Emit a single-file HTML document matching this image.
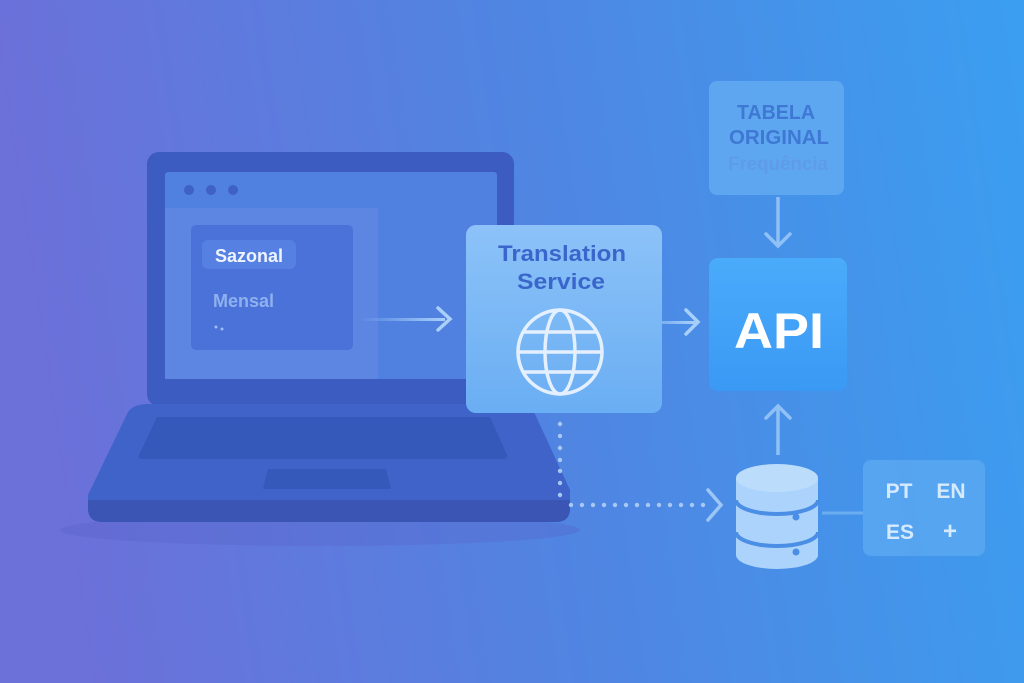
<!DOCTYPE html>
<html><head><meta charset="utf-8"><style>
html,body{margin:0;padding:0;width:1024px;height:683px;overflow:hidden}
svg{display:block}
text{font-family:"Liberation Sans","DejaVu Sans",sans-serif;font-weight:bold}
</style></head><body>
<svg width="1024" height="683" viewBox="0 0 1024 683" xmlns="http://www.w3.org/2000/svg">
<defs>
<linearGradient id="bg" x1="0" y1="0.2" x2="1" y2="0.1">
<stop offset="0" stop-color="#6c70d9"/><stop offset="0.5" stop-color="#5085e2"/><stop offset="1" stop-color="#3b9ef0"/>
</linearGradient>
<linearGradient id="ts" x1="0" y1="0" x2="0" y2="1">
<stop offset="0" stop-color="#8cc2f8"/><stop offset="1" stop-color="#6aaef3"/>
</linearGradient>
<linearGradient id="api" x1="0" y1="0" x2="0" y2="1">
<stop offset="0" stop-color="#4aabfb"/><stop offset="1" stop-color="#3a99f4"/>
</linearGradient>
<linearGradient id="ar" x1="0" y1="0" x2="1" y2="0">
<stop offset="0" stop-color="#a8d0fb" stop-opacity="0"/><stop offset="1" stop-color="#a8d0fb"/>
</linearGradient>
</defs>
<rect width="1024" height="683" fill="url(#bg)"/>
<!-- shadow -->
<ellipse cx="320" cy="530" rx="260" ry="16" fill="#5660c8" opacity="0.3"/>
<!-- laptop screen -->
<rect x="147" y="152" width="367" height="254" rx="12" fill="#3d5cc2"/>
<rect x="165" y="172" width="332" height="207" rx="3" fill="#5080e0"/>
<rect x="165" y="208" width="213" height="171" fill="#5d86e3"/>
<circle cx="189" cy="190" r="5" fill="#3f60c6"/><circle cx="211" cy="190" r="5" fill="#3f60c6"/><circle cx="233" cy="190" r="5" fill="#3f60c6"/>
<rect x="191" y="225" width="162" height="125" rx="5" fill="#4a72d8"/>
<rect x="202" y="240" width="94" height="29" rx="6" fill="#5680e2"/>
<text x="215" y="262" font-size="18" fill="#eef4ff">Sazonal</text>
<text x="213" y="307" font-size="18" fill="#8fb0ef">Mensal</text>
<circle cx="216" cy="327" r="1.5" fill="#9fbdf2"/><circle cx="222" cy="329" r="1.5" fill="#9fbdf2"/>
<!-- laptop base -->
<path d="M150 404 H520 Q530 404 534 412 L570 490 V508 Q570 522 556 522 H102 Q88 522 88 508 V495 L128 412 Q133 404 150 404 Z" fill="#3f63c8"/>
<path d="M88 500 H570 V508 Q570 522 556 522 H102 Q88 522 88 508 Z" fill="#3a55b4"/>
<path d="M157 417 H490 L507 455 Q508 459 503 459 H143 Q137 459 139 455 Z" fill="#3558bb"/>
<path d="M268 469 H386 L391 489 H263 Z" fill="#3558bb"/>
<!-- arrows -->
<rect x="360" y="318" width="85" height="3" fill="url(#ar)"/>
<path d="M438 308 L450 319 L438 330" fill="none" stroke="#a8d0fb" stroke-width="3.5" stroke-linecap="round"/>
<rect x="625" y="321" width="70" height="3" fill="url(#ar)"/>
<path d="M686 310 L698 322 L686 334" fill="none" stroke="#a8d0fb" stroke-width="3.5" stroke-linecap="round"/>
<!-- translation service -->
<rect x="466" y="225" width="196" height="188" rx="10" fill="url(#ts)"/>
<text x="562" y="261" font-size="22" fill="#3a66cb" text-anchor="middle" textLength="128" lengthAdjust="spacingAndGlyphs">Translation</text>
<text x="561" y="289" font-size="22" fill="#3a66cb" text-anchor="middle" textLength="88" lengthAdjust="spacingAndGlyphs">Service</text>
<g fill="none" stroke="#e4f0ff" stroke-width="3.5">
<circle cx="560" cy="352" r="42"/>
<ellipse cx="560" cy="352" rx="15" ry="42"/>
<line x1="518" y1="352" x2="602" y2="352"/>
<line x1="523" y1="332" x2="597" y2="332"/>
<line x1="523" y1="372" x2="597" y2="372"/>
</g>
<!-- tabela -->
<rect x="709" y="81" width="135" height="114" rx="8" fill="#66aef2" opacity="0.75"/>
<text x="776" y="119" font-size="20" fill="#3f78d4" text-anchor="middle" textLength="78" lengthAdjust="spacingAndGlyphs">TABELA</text>
<text x="779" y="144" font-size="20" fill="#3f78d4" text-anchor="middle" textLength="100" lengthAdjust="spacingAndGlyphs">ORIGINAL</text>
<text x="778" y="170" font-size="19" fill="#5f9ce8" text-anchor="middle" textLength="100" lengthAdjust="spacingAndGlyphs">Frequência</text>
<line x1="778" y1="197" x2="778" y2="244" stroke="#8fc0f6" stroke-width="3.5"/>
<path d="M766 234 L778 246 L790 234" fill="none" stroke="#8fc0f6" stroke-width="3.5" stroke-linecap="round"/>
<!-- API -->
<rect x="709" y="258" width="138" height="133" rx="9" fill="url(#api)"/>
<text x="779" y="348" font-size="50" fill="#ffffff" text-anchor="middle" textLength="90" lengthAdjust="spacingAndGlyphs">API</text>
<line x1="778" y1="407" x2="778" y2="455" stroke="#8fc0f6" stroke-width="3.5"/>
<path d="M766 418 L778 406 L790 418" fill="none" stroke="#8fc0f6" stroke-width="3.5" stroke-linecap="round"/>
<!-- dotted -->
<g fill="#a8c8f4">
<circle cx="560" cy="424" r="2.2"/><circle cx="560" cy="436" r="2.2"/><circle cx="560" cy="448" r="2.2"/><circle cx="560" cy="460" r="2.2"/><circle cx="560" cy="471" r="2.2"/><circle cx="560" cy="483" r="2.2"/><circle cx="560" cy="495" r="2.2"/>
<circle cx="571" cy="505" r="2.2"/><circle cx="582" cy="505" r="2.2"/><circle cx="593" cy="505" r="2.2"/><circle cx="604" cy="505" r="2.2"/><circle cx="615" cy="505" r="2.2"/><circle cx="626" cy="505" r="2.2"/><circle cx="637" cy="505" r="2.2"/><circle cx="648" cy="505" r="2.2"/><circle cx="659" cy="505" r="2.2"/><circle cx="670" cy="505" r="2.2"/><circle cx="681" cy="505" r="2.2"/><circle cx="692" cy="505" r="2.2"/><circle cx="703" cy="505" r="2.2"/>
</g>
<path d="M708 490 L721 505 L708 520" fill="none" stroke="#9cc6f6" stroke-width="3.5" stroke-linecap="round"/>
<!-- database -->
<path d="M736 478 V555 A41 14 0 0 0 818 555 V478 Z" fill="#acd3fb"/>
<ellipse cx="777" cy="478" rx="41" ry="14" fill="#bcdcfc"/>
<path d="M736 500 A41 14 0 0 0 818 500" fill="none" stroke="#4a8ee6" stroke-width="4"/>
<path d="M736 532 A41 14 0 0 0 818 532" fill="none" stroke="#4a8ee6" stroke-width="4"/>
<circle cx="796" cy="517" r="3.5" fill="#4a8ee6"/><circle cx="796" cy="552" r="3.5" fill="#4a8ee6"/>
<line x1="822" y1="513" x2="863" y2="513" stroke="#6aaef0" stroke-width="3"/>
<!-- lang -->
<rect x="863" y="460" width="122" height="96" rx="8" fill="#5eaaf2" opacity="0.75"/>
<text x="899" y="498" font-size="21" fill="#d6eaff" text-anchor="middle">PT</text>
<text x="951" y="498" font-size="21" fill="#d6eaff" text-anchor="middle">EN</text>
<text x="900" y="539" font-size="21" fill="#d6eaff" text-anchor="middle">ES</text>
<text x="950" y="539" font-size="24" fill="#d6eaff" text-anchor="middle">+</text>
</svg>
</body></html>
